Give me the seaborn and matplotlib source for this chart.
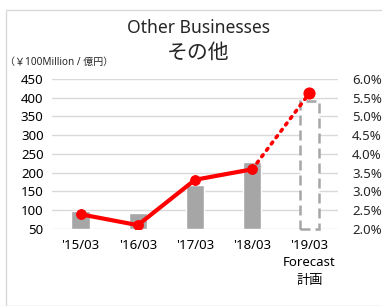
import matplotlib
matplotlib.use("Agg")
import matplotlib.pyplot as plt
import seaborn as sns
import pandas as pd
from matplotlib.patches import Rectangle

# data
periods = ["'15/03", "'16/03", "'17/03", "'18/03", "'19/03\nForecast\n計画"]
sales = [98, 93, 167, 229, 392]          # 億円 (bars, left axis)
margin = [2.39, 2.10, 3.31, 3.59, 5.62]   # % (line, right axis)
left_ticks = [50, 100, 150, 200, 250, 300, 350, 400, 450]
right_ticks = [2.0, 2.5, 3.0, 3.5, 4.0, 4.5, 5.0, 5.5, 6.0]

sns.set_style("white")
plt.rcParams['font.family'] = ['Noto Sans', 'Noto Sans CJK JP', 'DejaVu Sans']

df = pd.DataFrame({'period': periods, 'sales': sales, 'margin': margin})
df['idx'] = range(len(df))

fig = plt.figure(figsize=(3.82, 3.06), dpi=100)
ax = fig.add_axes([0.136, 0.252, 0.749, 0.490])

base = left_ticks[0]
sns.barplot(data=df, x='period', y='sales', color='#a6a6a6', width=0.32,
            saturation=1, ax=ax)
# bars start from the axis floor, like the original
for p in ax.patches:
    top = p.get_y() + p.get_height()
    p.set_y(base)
    p.set_height(top - base)
# forecast bar: dashed outline only
fc = ax.patches[-1]
fc.set_facecolor('white')
fc.set_edgecolor('#a6a6a6')
fc.set_linestyle((0, (4, 2)))
fc.set_linewidth(1.8)
fc.set_clip_on(False)

ax.set_ylim(50, 450)
ax.set_yticks(left_ticks)
ax.set_xlim(-0.5, 4.5)
ax.yaxis.grid(True, color='#d9d9d9', lw=1)
ax.set_axisbelow(True)
for s in ax.spines.values():
    s.set_visible(False)
ax.set_xlabel('')
ax.set_ylabel('')
ax.tick_params(axis='both', length=0, labelsize=9.5, colors='#000000')
ax.tick_params(axis='y', pad=6)
ax.tick_params(axis='x', pad=7)
ax.set_xticks(range(len(periods)))
ax.set_xticklabels(periods, linespacing=1.45, va='top')

ax2 = ax.twinx()
sns.lineplot(data=df.iloc[:4], x='idx', y='margin', ax=ax2, color='#ff0000',
             lw=3, marker='o', markersize=7, markeredgecolor='#ff0000')
sns.lineplot(data=df.iloc[3:], x='idx', y='margin', ax=ax2, color='#ff0000',
             lw=2.6, linestyle=(0, (0.6, 1.6)), dash_capstyle='round')
sns.lineplot(data=df.iloc[4:], x='idx', y='margin', ax=ax2, color='#ff0000',
             lw=0, marker='o', markersize=8, markeredgecolor='#ff0000')
ax2.set_ylim(2.0, 6.0)
ax2.set_yticks(right_ticks)
ax2.set_yticklabels([f"{t:.1f}%" for t in right_ticks])
ax2.set_xlim(-0.5, 4.5)
ax2.set_ylabel('')
ax2.set_xlabel('')
for s in ax2.spines.values():
    s.set_visible(False)
ax2.tick_params(axis='y', length=0, labelsize=9.5, pad=10)

fig.text(0.52, 0.91, 'Other Businesses', ha='center', va='center', fontsize=12.6)
fig.text(0.52, 0.825, 'その他', ha='center', va='center', fontsize=15)
fig.text(0.012, 0.797, '（￥100Million / 億円）', ha='left', va='center',
         fontsize=7.2)

fig.patches.append(Rectangle((0.016, 0.0), 1.0, 0.967, transform=fig.transFigure,
                             fill=False, edgecolor='#d9d9d9', lw=1))

fig.savefig('out.png', dpi=100)
